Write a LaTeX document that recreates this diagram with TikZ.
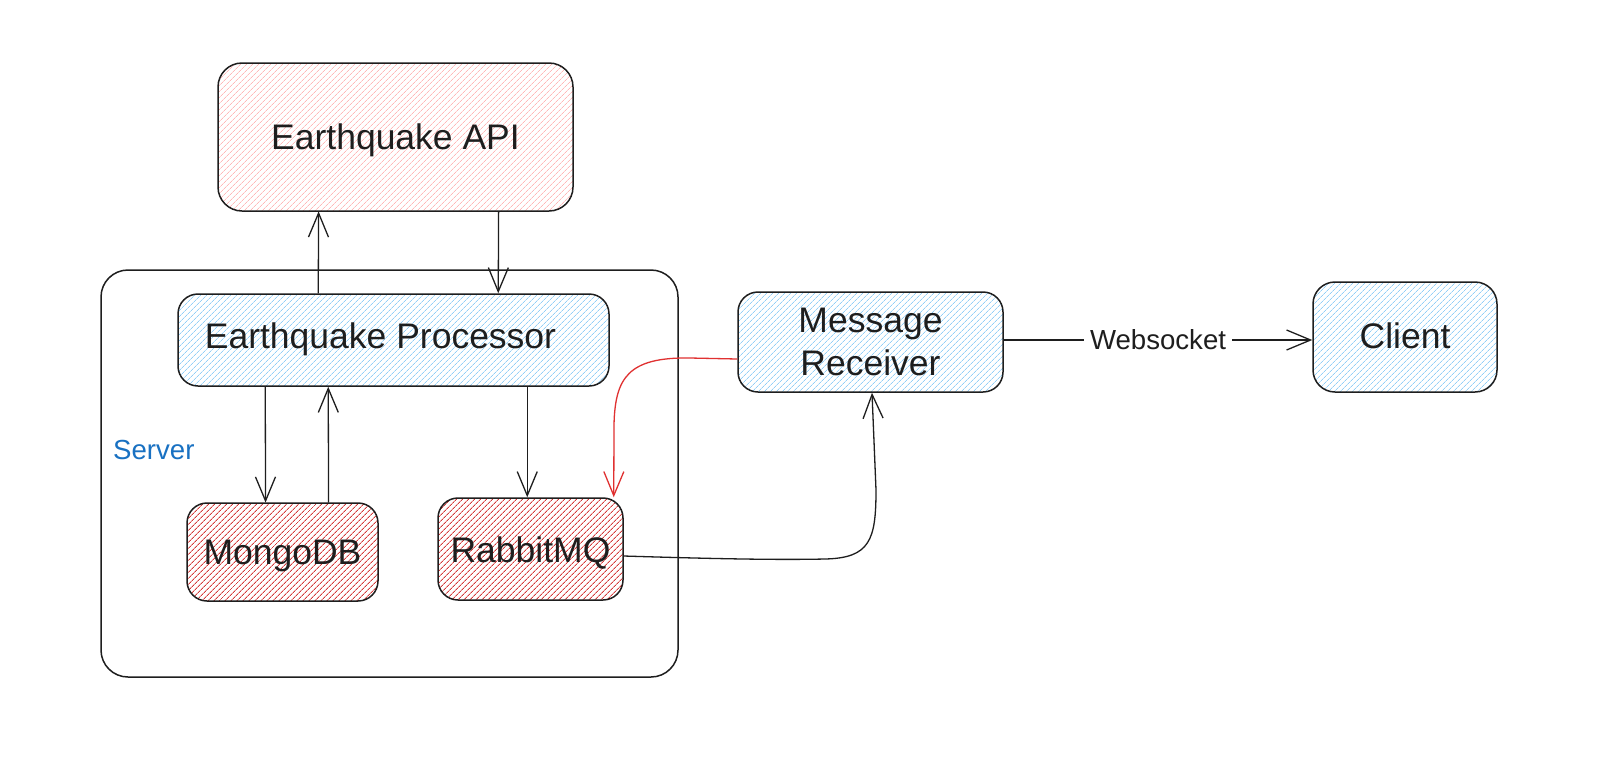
\documentclass[tikz,border=0pt]{standalone}
\usepackage{fontspec}
\setmainfont{Liberation Sans}
\usetikzlibrary{arrows.meta,patterns.meta}
\definecolor{ink}{HTML}{1E1E1E}
\definecolor{pinkh}{HTML}{FFB8B8}
\definecolor{blueh}{HTML}{92CFF7}
\definecolor{redh}{HTML}{D43A3A}
\definecolor{srvblue}{HTML}{1971C2}
\definecolor{redarrow}{HTML}{E03131}
\begin{document}
\begin{tikzpicture}[x=1pt,y=-1pt,
  boxbase/.style={draw=ink,line width=1.5pt,rounded corners=20pt,inner sep=0pt},
  pinkbox/.style={boxbase,pattern={Lines[angle=45,distance=4pt,line width=0.8pt]},pattern color=pinkh},
  bluebox/.style={boxbase,pattern={Lines[angle=45,distance=4pt,line width=0.8pt]},pattern color=blueh},
  redbox/.style={boxbase,pattern={Lines[angle=45,distance=4pt,line width=0.9pt]},pattern color=redh},
  lbl/.style={font=\fontsize{35.5}{42}\selectfont,text=ink,inner sep=0pt,anchor=base},
  small/.style={font=\fontsize{27.6}{33}\selectfont},
  arr/.style={draw=ink,line width=1.3pt,-{Straight Barb[length=24pt,width=20pt]}}]
\useasboundingbox (0,0) rectangle (1600,761);
\fill[white] (0,0) rectangle (1600,761);

% server frame
\node[draw=ink,line width=1.5pt,rounded corners=27pt,minimum width=577pt,minimum height=407pt,inner sep=0pt] (server) at (389.5,473.5) {};
\node[small,text=srvblue,inner sep=0pt,anchor=base west] (servert) at (113,459) {Server};

% boxes
\node[pinkbox,rounded corners=24pt,minimum width=355pt,minimum height=148pt] (api) at (395.5,137) {};
\node[lbl] (apit) at (395.5,149) {Earthquake API};

\node[bluebox,minimum width=431pt,minimum height=92pt] (proc) at (393.5,340) {};
\node[lbl] (proct) at (380.5,348) {Earthquake Processor};

\node[redbox,minimum width=191pt,minimum height=98pt] (mongo) at (282.5,552) {};
\node[lbl] (mongot) at (282.5,564) {MongoDB};

\node[redbox,minimum width=185pt,minimum height=102pt] (rabbit) at (530.5,549) {};
\node[lbl] (rabbitt) at (530.5,562) {RabbitMQ};

\node[bluebox,minimum width=265pt,minimum height=100pt] (recv) at (870.5,342) {};
\node[lbl] (recvt1) at (870.5,332) {Message};
\node[lbl] (recvt2) at (870.5,375) {Receiver};

\node[bluebox,rounded corners=22pt,minimum width=184pt,minimum height=110pt] (client) at (1405,337) {};
\node[lbl] (clientt) at (1405,348) {Client};

% connectors
\draw[arr] ([xshift=141pt]proc.north west) -- ([xshift=101pt]api.south west);
\draw[arr] ([xshift=281pt]api.south west) -- ([xshift=321pt]proc.north west);
\draw[arr] ([xshift=88pt]proc.south west) -- ([xshift=79pt]mongo.north west);
\draw[arr] ([xshift=142pt]mongo.north west) -- ([xshift=151pt]proc.south west);
\draw[arr] ([xshift=350pt]proc.south west) -- ([xshift=90pt]rabbit.north west);

\draw[arr,draw=redarrow] ([yshift=-17pt]recv.west) -- (690,358)
  .. controls (628,357) and (615,378) .. (614,425) -- ([xshift=-10pt]rabbit.north east);

\draw[arr] ([yshift=-7pt]rabbit.east) .. controls (720,559) and (780,560) .. (825,559)
  .. controls (870,558) and (876,540) .. (876,490) -- ([xshift=1.5pt]recv.south);

\draw[arr] ([yshift=2pt]recv.east) -- node[small,fill=white,text=ink,inner xsep=6pt,inner ysep=2pt] (ws) {Websocket} ([yshift=-3pt]client.west);
\end{tikzpicture}
\end{document}
